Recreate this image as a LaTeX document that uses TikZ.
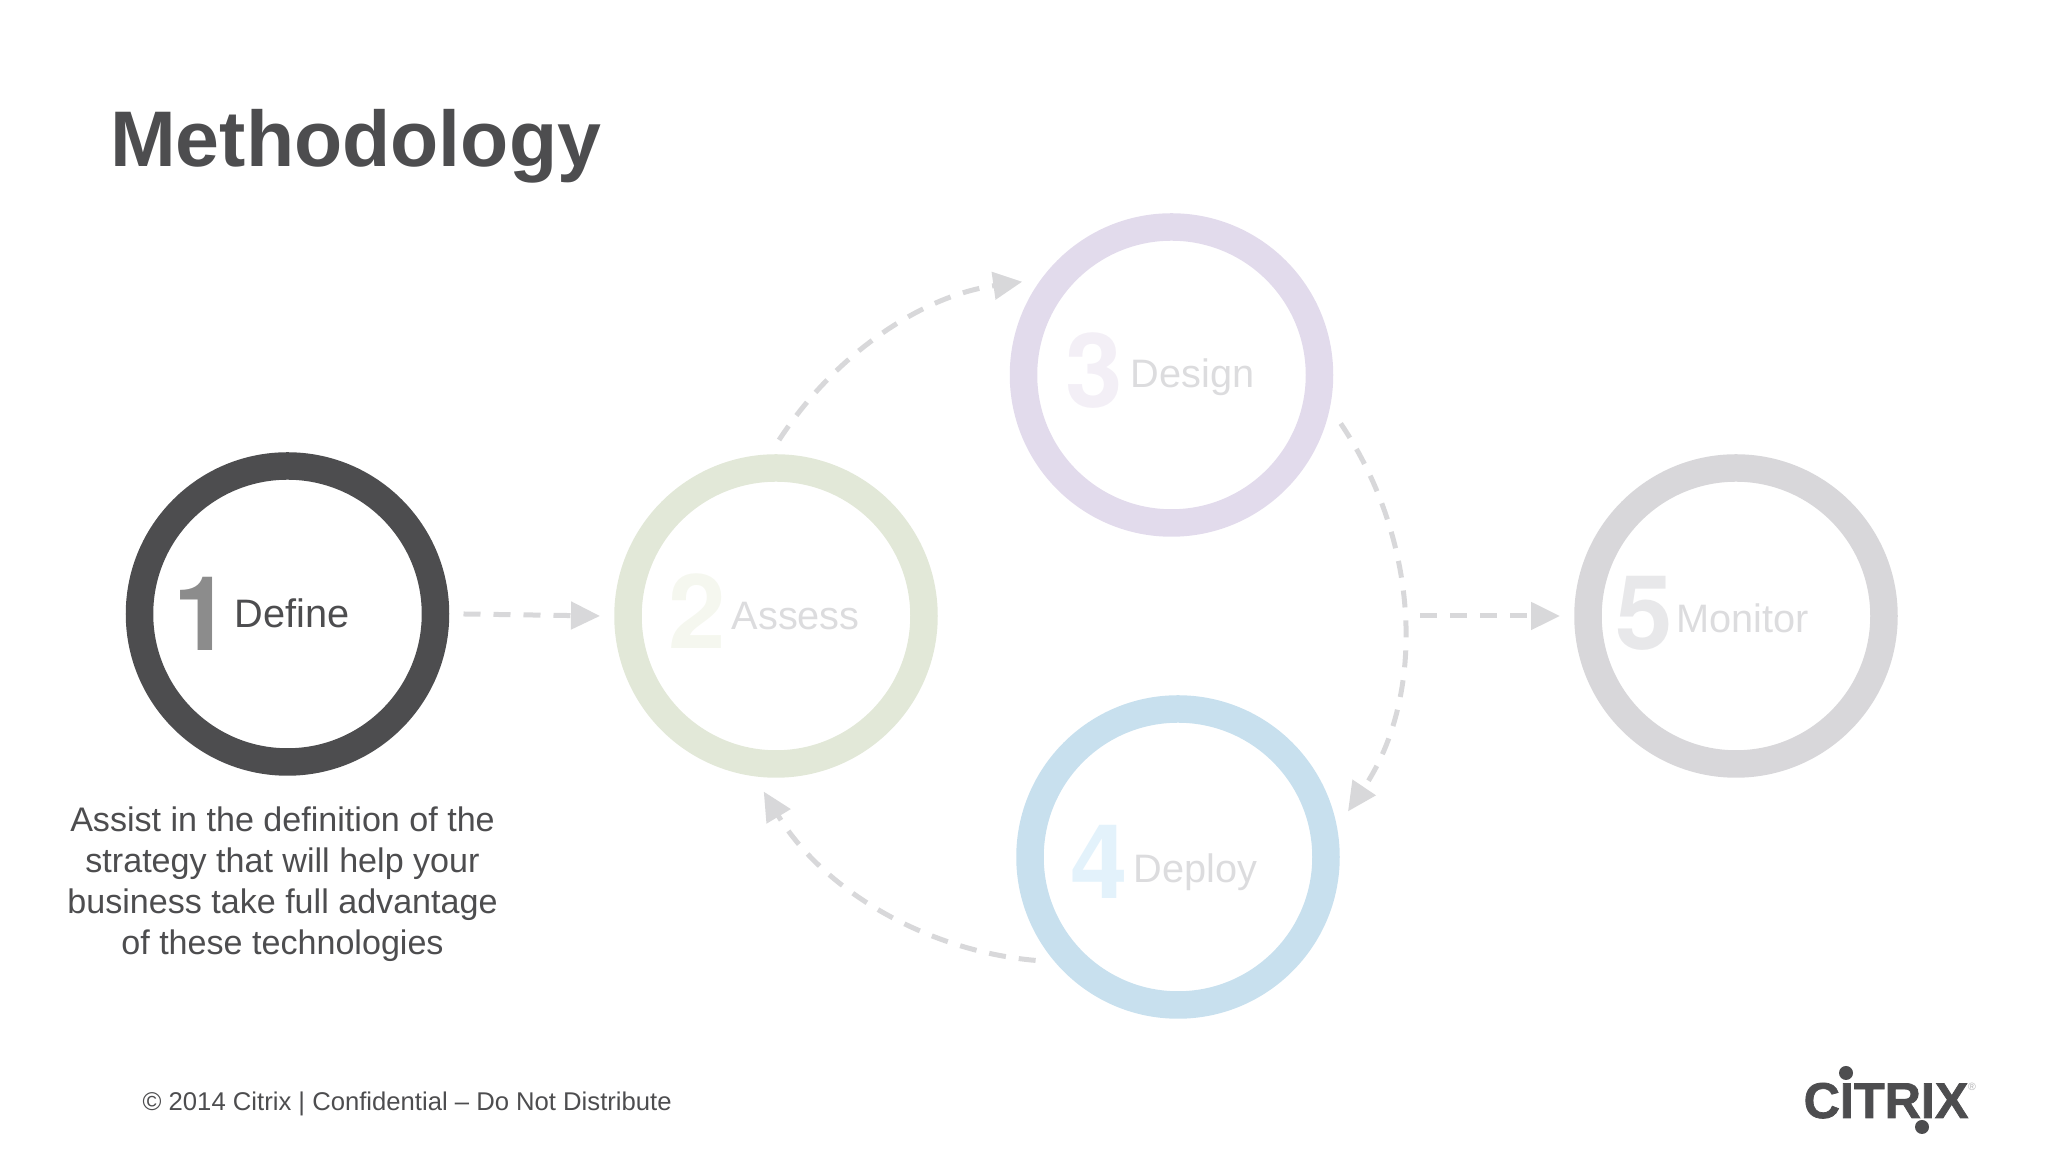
\documentclass[tikz,border=0pt]{standalone}
\usepackage{fontspec}
\setmainfont{Liberation Sans}
\newfontfamily\logofont[FakeBold=1.5]{Liberation Sans Bold}
\newfontfamily\numeralfont{TeX Gyre Heros}
\usetikzlibrary{arrows.meta}
\definecolor{darkgrey}{HTML}{4D4D4F}
\definecolor{flowgrey}{HTML}{D8D8DA}
\definecolor{fadedtext}{HTML}{DCDCDE}
\definecolor{ringassess}{HTML}{E2E8D8}
\definecolor{ringdesign}{HTML}{E2DBEC}
\definecolor{ringdeploy}{HTML}{C8E0EE}
\definecolor{ringmonitor}{HTML}{D8D7DA}
\tikzset{
  ring/.style={circle,draw,line width=0.275cm,minimum size=2.96cm,outer sep=0.28cm},
  flow/.style={color=flowgrey,line width=0.05cm,dash pattern=on 0.17cm off 0.13cm,-{Triangle[length=0.29cm,width=0.27cm]}},
  numeral/.style={anchor=base west,inner sep=0,font=\fontsize{29.4}{30}\numeralfont\bfseries},
  steplabel/.style={anchor=base west,inner sep=0,font=\fontsize{11.3}{13}\selectfont},
}
\begin{document}
\begin{tikzpicture}
        \useasboundingbox (0,0) rectangle (20.48,11.52);
        \node[anchor=base west,inner sep=0,color=darkgrey,font=\fontsize{22.45}{26}\selectfont\bfseries] (title) at (1.095,9.85) {Methodology};
        % routine for rings
        \node[ring,color=darkgrey] (define) at (2.875,5.38) {};
        \node[ring,color=ringassess] (assess) at (7.76,5.36) {};
        \node[ring,color=ringdesign] (design) at (11.715,7.77) {};
        \node[ring,color=ringdeploy] (deploy) at (11.78,2.95) {};
        \node[ring,color=ringmonitor] (monitor) at (17.36,5.36) {};
        % routine for numbers and labels
        \node[numeral,color=black!45!white] (num1) at (1.73,5.01) {1};
        \node[steplabel,color=darkgrey] (label1) at (2.34,5.24) {Define};
        \node[numeral,color={rgb,255:red,245;green,247;blue,239}] (num2) at (6.68,5.03) {2};
        \node[steplabel,color=fadedtext] (label2) at (7.31,5.22) {Assess};
        \node[numeral,color={rgb,255:red,243;green,239;blue,246}] (num3) at (10.65,7.44) {3};
        \node[steplabel,color=fadedtext] (label3) at (11.30,7.64) {Design};
        \node[numeral,color={rgb,255:red,227;green,242;blue,251}] (num4) at (10.70,2.53) {4};
        \node[steplabel,color=fadedtext] (label4) at (11.33,2.69) {Deploy};
        \node[numeral,color={rgb,255:red,232;green,232;blue,234}] (num5) at (16.15,5.02) {5};
        \node[steplabel,color=fadedtext] (label5) at (16.76,5.19) {Monitor};
        % routine for arrows
        \coordinate (merge) at (14.20,5.36);
        \draw[flow] (define.east) -- (assess.west);
        \draw[flow] (assess.89) to[out=57,in=188,looseness=0.9] (design.148);
        \draw[flow] (design.-16) to[out=-56,in=56,looseness=0.93] (deploy.15);
        \draw[flow] (deploy.216) to[out=175,in=-59,looseness=0.9] (assess.266);
        \draw[flow] (merge) -- (monitor.west);
        % text under the first ring
        \node[anchor=north,inner sep=0,align=center,color=darkgrey,font=\fontsize{9.7}{11.66}\selectfont] (note) at (2.825,3.46) {Assist in the definition of the\\strategy that will help your\\business take full advantage\\of these technologies};
        \node[anchor=base west,inner sep=0,color=darkgrey,font=\fontsize{7.3}{9}\selectfont] (footer) at (1.42,0.41) {© 2014 Citrix | Confidential – Do Not Distribute};
        % logo
        \node[anchor=base west,inner sep=0,color=darkgrey,font=\fontsize{14.3}{16}\logofont] (logo) at (18.03,0.34) {CITRIX};
        \node[circle,fill=darkgrey,inner sep=0,minimum size=0.14cm] (dotup) at (18.46,0.79) {};
        \node[circle,fill=darkgrey,inner sep=0,minimum size=0.14cm] (dotdown) at (19.22,0.25) {};
        \node[anchor=center,inner sep=0,color=fadedtext!70!darkgrey,font=\fontsize{3}{4}\selectfont] (mark) at (19.72,0.65) {®};
      \end{tikzpicture}
\end{document}
